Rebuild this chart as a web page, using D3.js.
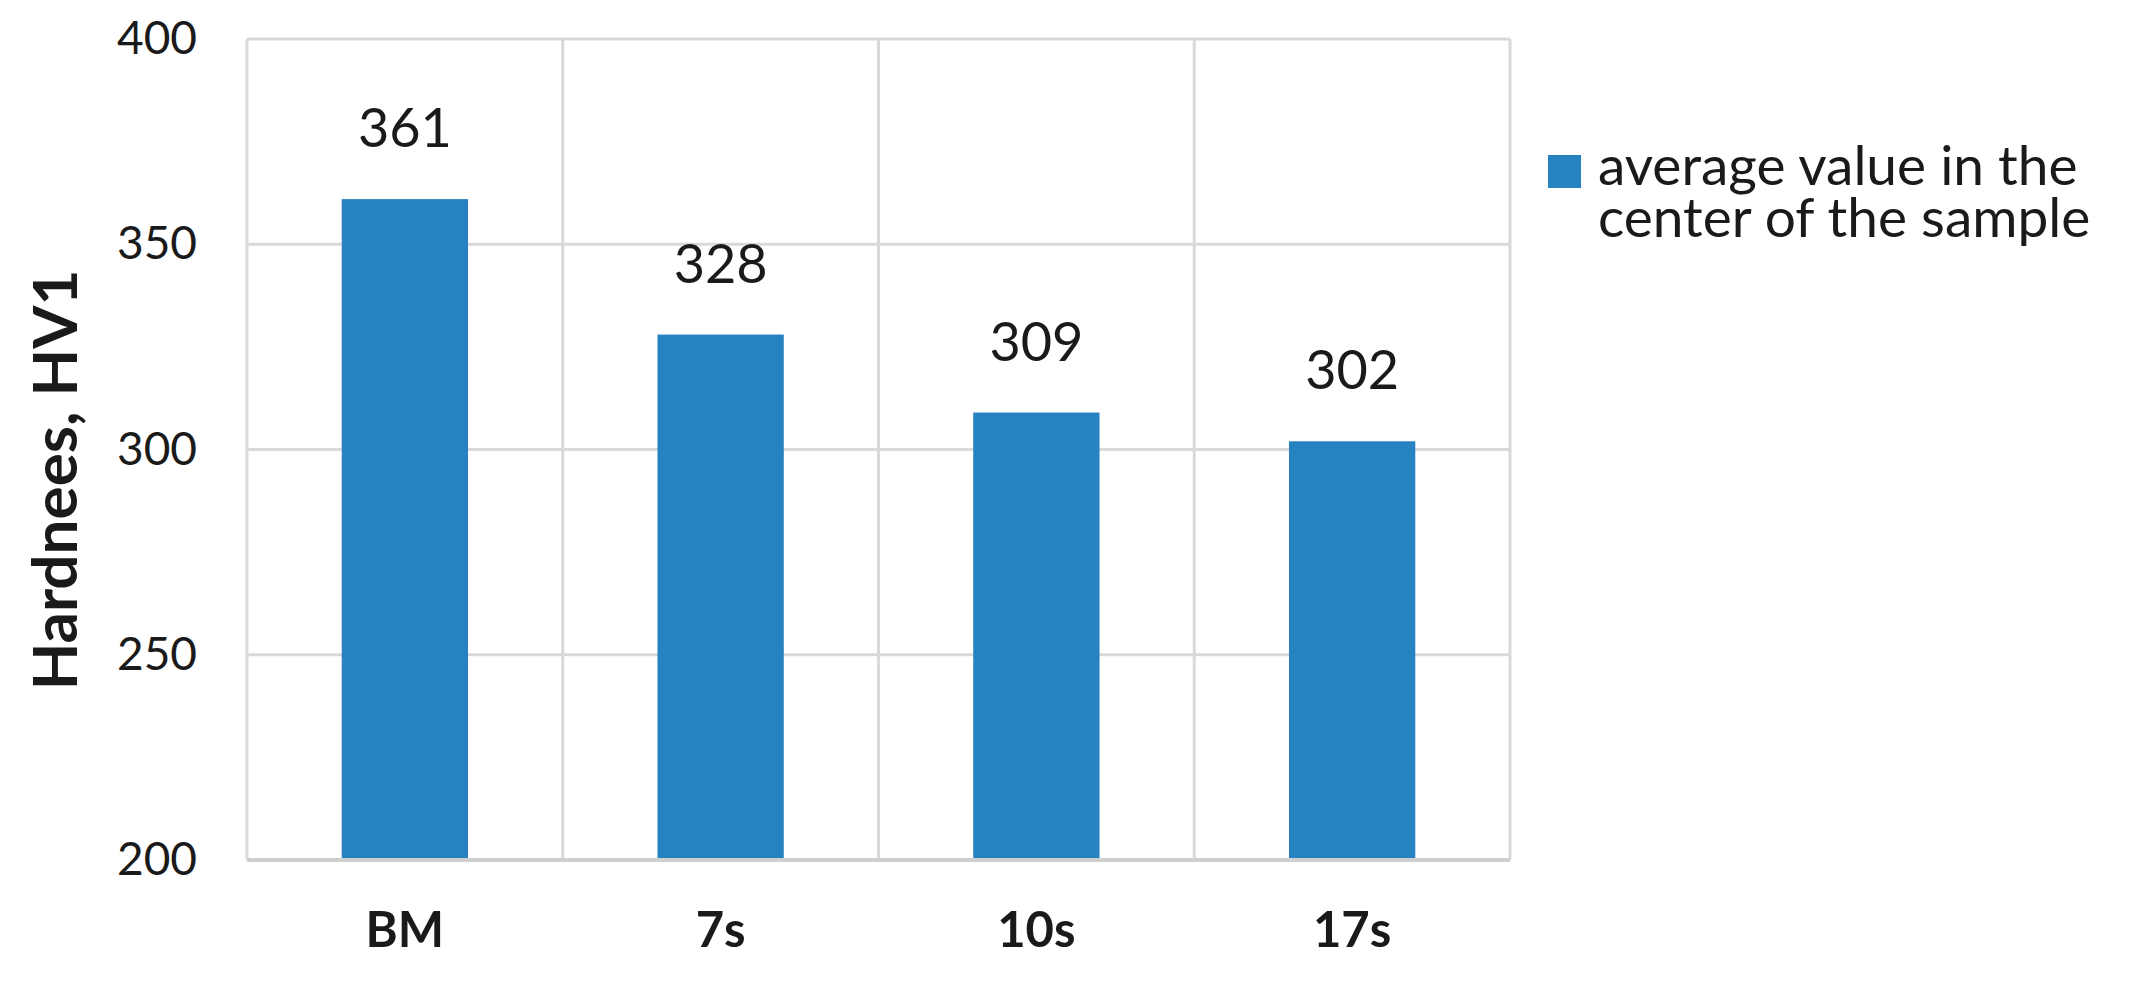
<!DOCTYPE html>
<html>
<head>
<meta charset="utf-8">
<script src="https://cdn.jsdelivr.net/npm/d3@7"></script>
<style>
    body { margin: 0; background: #fff; }
    text { font-family: Lato, "Open Sans", sans-serif; fill: #1a1a1a; }
</style>
</head>
<body>
<svg id="chart"></svg>
<script>

// data
var categories = ["BM", "7s", "10s", "17s"];
var hardness = [361, 328, 309, 302];
var yTicks = [200, 250, 300, 350, 400];
var seriesName = ["average value in the", "center of the sample"];

var width = 2148, height = 987;
var margin = {top: 39, right: 638, bottom: 127, left: 247};

var svg = d3.select("#chart")
    .attr("width", width)
    .attr("height", height);

var plotW = width - margin.left - margin.right;
var plotH = height - margin.top - margin.bottom;

var g = svg.append("g")
    .attr("transform", "translate(" + margin.left + "," + margin.top + ")");

let xScale = d3.scaleBand()
    .domain(categories)
    .range([0, plotW])
    .padding(0);

let yScale = d3.scaleLinear()
    .domain([200, 400])
    .range([plotH, 0]);

var barColor = "#2782c2";
var gridColor = "#d9d9d9";

// horizontal gridlines
g.selectAll(".hgrid")
    .data(yTicks)
    .enter().append("line")
    .attr("class", "hgrid")
    .attr("x1", 0)
    .attr("x2", plotW)
    .attr("y1", d => yScale(d))
    .attr("y2", d => yScale(d))
    .attr("stroke", gridColor)
    .attr("stroke-width", 3);

// vertical gridlines on the category borders
var borders = categories.map(d => xScale(d)).concat([plotW]);
g.selectAll(".vgrid")
    .data(borders)
    .enter().append("line")
    .attr("class", "vgrid")
    .attr("x1", d => d)
    .attr("x2", d => d)
    .attr("y1", 0)
    .attr("y2", plotH)
    .attr("stroke", gridColor)
    .attr("stroke-width", 3);

// y axis labels (no domain line, no ticks)
let yAxis = d3.axisLeft(yScale)
    .tickValues(yTicks)
    .tickSize(0)
    .tickPadding(50);

var yAxisG = g.append("g").call(yAxis);
yAxisG.select(".domain").remove();
yAxisG.selectAll("text")
    .attr("font-size", 46)
    .attr("font-family", "Lato, sans-serif")
    .attr("fill", "#262626");

// bars
var barW = xScale.bandwidth() * 0.4;
g.selectAll(".bar")
    .data(hardness)
    .enter().append("rect")
    .attr("class", "bar")
    .attr("x", (d, i) => xScale(categories[i]) + (xScale.bandwidth() - barW) / 2)
    .attr("y", d => yScale(d))
    .attr("width", barW)
    .attr("height", d => plotH - yScale(d))
    .attr("fill", barColor);

// bottom axis line
g.append("line")
    .attr("x1", 0)
    .attr("x2", plotW)
    .attr("y1", plotH)
    .attr("y2", plotH)
    .attr("stroke", "#cfcfcf")
    .attr("stroke-width", 4);

// value labels above bars
g.selectAll(".vlabel")
    .data(hardness)
    .enter().append("text")
    .attr("class", "vlabel")
    .attr("x", (d, i) => xScale(categories[i]) + xScale.bandwidth() / 2)
    .attr("y", d => yScale(d) - 52)
    .attr("text-anchor", "middle")
    .attr("font-size", 54)
    .text(d => d);

// category labels
let xAxis = d3.axisBottom(xScale)
    .tickSize(0)
    .tickPadding(0);

var xAxisG = g.append("g")
    .attr("transform", "translate(0," + plotH + ")")
    .call(xAxis);
xAxisG.select(".domain").remove();
xAxisG.selectAll("text")
    .attr("dy", null)
    .attr("y", 87)
    .attr("font-size", 49)
    .attr("font-weight", "bold")
    .attr("font-family", "Lato, sans-serif")
    .attr("fill", "#000");

// y axis title
svg.append("text")
    .attr("transform", "translate(77," + 480 + ") rotate(-90)")
    .attr("text-anchor", "middle")
    .attr("font-size", 62)
    .attr("font-weight", "bold")
    .attr("fill", "#000")
    .text("Hardnees, HV1");

// legend
var legend = svg.append("g")
    .attr("transform", "translate(1548,155)");

legend.append("rect")
    .attr("width", 33)
    .attr("height", 33)
    .attr("fill", barColor);

// two-line legend label kept in one text element
var legendText = legend.append("text")
    .attr("font-size", 55)
    .attr("fill", "#1a1a1a");

legendText.selectAll("tspan")
    .data(seriesName)
    .enter().append("tspan")
    .attr("x", 50)
    .attr("y", (d, i) => 30 + i * 52)
    .text(d => d);

</script>
</body>
</html>
